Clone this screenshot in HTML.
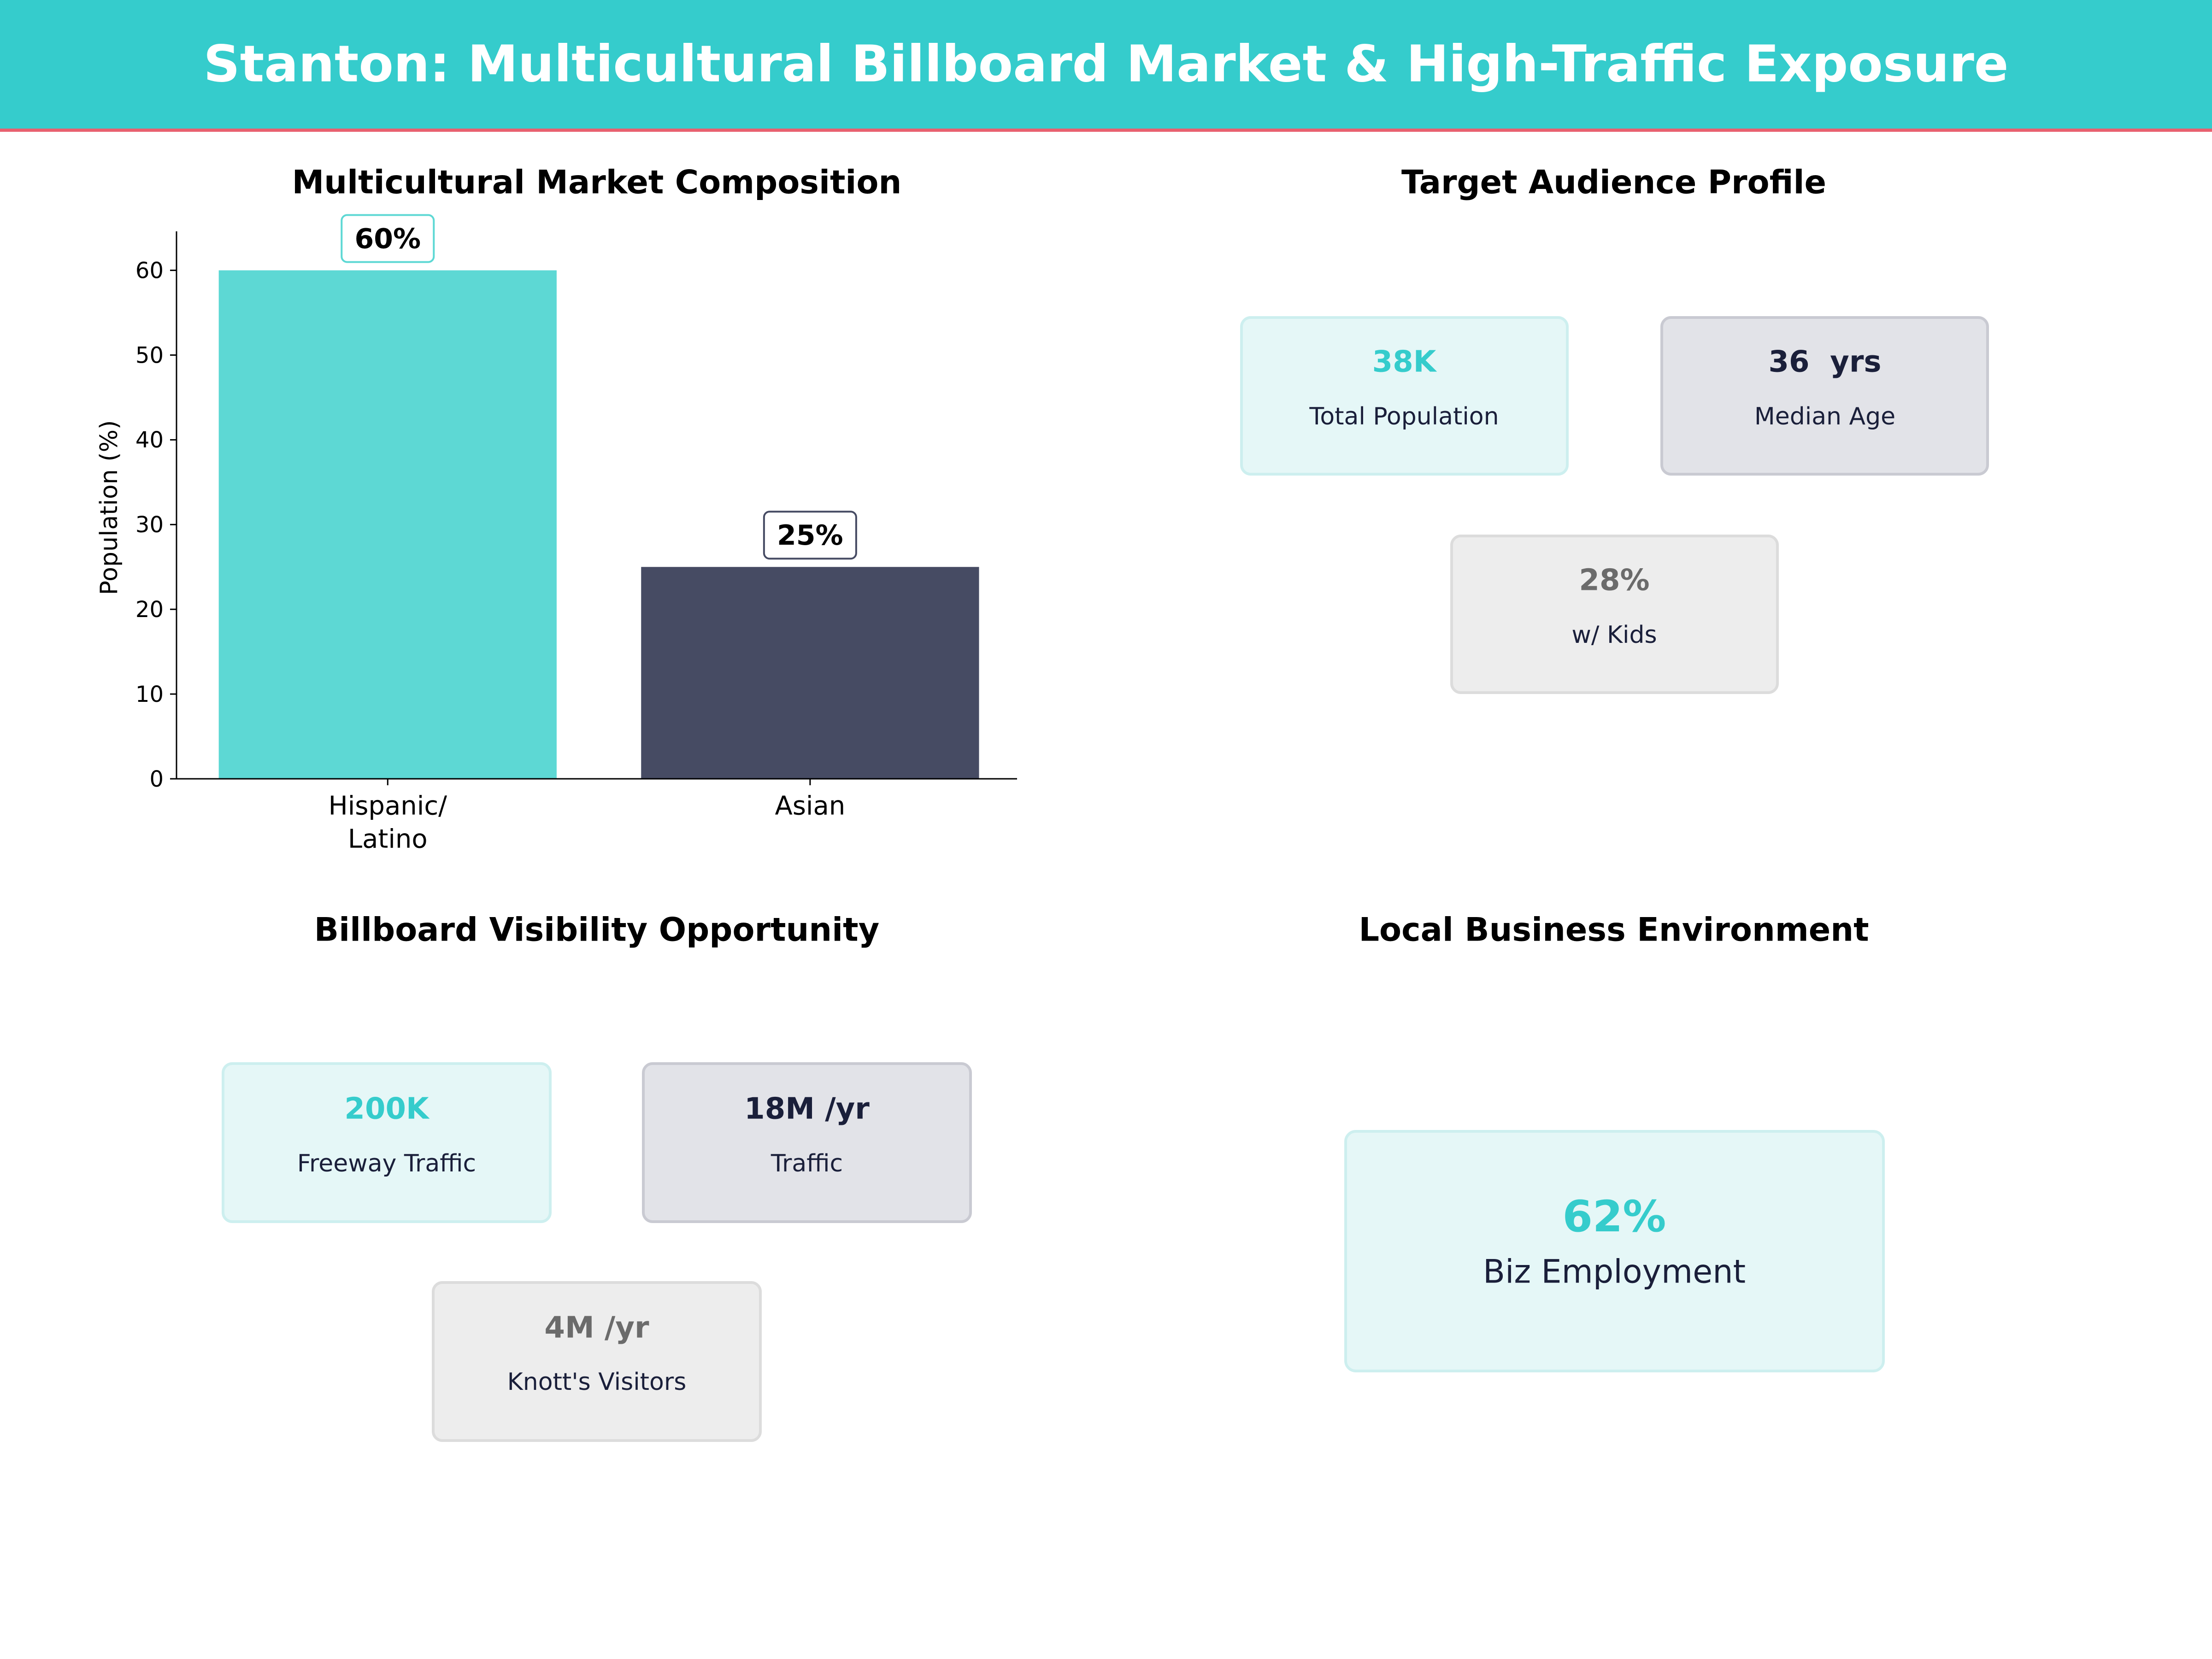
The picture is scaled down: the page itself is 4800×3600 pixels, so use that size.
<!DOCTYPE html>
<html><head><meta charset="utf-8"><style>
html,body{margin:0;padding:0;background:#fff}
svg{display:block}
text{font-family:"DejaVu Sans","Liberation Sans",sans-serif}
</style></head><body>
<svg id="root" width="4800" height="3600" viewBox="0 0 4800 3600" xmlns="http://www.w3.org/2000/svg">
<rect x="0" y="0" width="4800" height="282" fill="#35CCCC"/>
<rect x="0" y="279" width="4800" height="7" fill="#E8606F"/>
<text x="2400" y="138" dy="0.35em" text-anchor="middle" font-size="110" font-weight="bold" fill="#fff">Stanton: Multicultural Billboard Market &amp; High-Traffic Exposure</text>

<text x="1295" y="395" dy="0.35em" text-anchor="middle" font-size="70" font-weight="bold" fill="#000">Multicultural Market Composition</text>
<g id="chart"></g>

<text x="3502" y="395" dy="0.35em" text-anchor="middle" font-size="70" font-weight="bold" fill="#000">Target Audience Profile</text>
<text x="1295" y="2017" dy="0.35em" text-anchor="middle" font-size="70" font-weight="bold" fill="#000">Billboard Visibility Opportunity</text>
<text x="3502" y="2017" dy="0.35em" text-anchor="middle" font-size="70" font-weight="bold" fill="#000">Local Business Environment</text>

<g>
<rect x="2694" y="689" width="707" height="340" rx="20" fill="#E5F7F7" stroke="#CDEFEF" stroke-width="6"/>
<text x="3047" y="784" dy="0.35em" text-anchor="middle" font-size="64" font-weight="bold" fill="#35CCCC">38K</text>
<text x="3047" y="903" dy="0.35em" text-anchor="middle" font-size="52" fill="#1A1F3A">Total Population</text></g>
<g>
<rect x="3606" y="689" width="707" height="340" rx="20" fill="#E2E3E8" stroke="#C9CAD2" stroke-width="6"/>
<text x="3960" y="784" dy="0.35em" text-anchor="middle" font-size="64" font-weight="bold" fill="#1A1F3A" xml:space="preserve">36  yrs</text>
<text x="3960" y="903" dy="0.35em" text-anchor="middle" font-size="52" fill="#1A1F3A">Median Age</text></g>
<g>
<rect x="3150" y="1163" width="707" height="340" rx="20" fill="#EDEDED" stroke="#DCDCDC" stroke-width="6"/>
<text x="3503" y="1258" dy="0.35em" text-anchor="middle" font-size="64" font-weight="bold" fill="#6B6B6B">28%</text>
<text x="3503" y="1377" dy="0.35em" text-anchor="middle" font-size="52" fill="#1A1F3A">w/ Kids</text></g>

<g>
<rect x="484" y="2308" width="710" height="343" rx="20" fill="#E5F7F7" stroke="#CDEFEF" stroke-width="6"/>
<text x="839" y="2405" dy="0.35em" text-anchor="middle" font-size="64" font-weight="bold" fill="#35CCCC">200K</text>
<text x="839" y="2524" dy="0.35em" text-anchor="middle" font-size="52" fill="#1A1F3A">Freeway Traffic</text></g>
<g>
<rect x="1396" y="2308" width="710" height="343" rx="20" fill="#E2E3E8" stroke="#C9CAD2" stroke-width="6"/>
<text x="1751" y="2405" dy="0.35em" text-anchor="middle" font-size="64" font-weight="bold" fill="#1A1F3A">18M /yr</text>
<text x="1751" y="2524" dy="0.35em" text-anchor="middle" font-size="52" fill="#1A1F3A">Traffic</text></g>
<g>
<rect x="940" y="2783" width="710" height="343" rx="20" fill="#EDEDED" stroke="#DCDCDC" stroke-width="6"/>
<text x="1295" y="2880" dy="0.35em" text-anchor="middle" font-size="64" font-weight="bold" fill="#6B6B6B">4M /yr</text>
<text x="1295" y="2998" dy="0.35em" text-anchor="middle" font-size="52" fill="#1A1F3A">Knott's Visitors</text></g>

<g>
<rect x="2920" y="2455" width="1167" height="520" rx="22" fill="#E5F7F7" stroke="#CDEFEF" stroke-width="6"/>
<text x="3503" y="2639" dy="0.35em" text-anchor="middle" font-size="94" font-weight="bold" fill="#35CCCC">62%</text>
<text x="3503" y="2759" dy="0.35em" text-anchor="middle" font-size="70" fill="#1A1F3A">Biz Employment</text></g>
</svg>
<script>
const categories = ["Hispanic/\nLatino", "Asian"];
const values = [60, 25];
const valueLabels = ["60%", "25%"];
const yTicks = [0, 10, 20, 30, 40, 50, 60];
const barColors = ["#5DD8D4", "#464B63"];
const boxEdge = ["#5DD8D4", "#464B63"];

const NS = "http://www.w3.org/2000/svg";
const g = document.getElementById("chart");
const X0 = 383, X1 = 2207, Y0 = 1690, Ytop = 502;
const xmin = -0.5, xmax = 1.49, ymin = 0, ymax = 64.6;
const xs = v => X0 + (v - xmin) / (xmax - xmin) * (X1 - X0);
const ys = v => Y0 - (v - ymin) / (ymax - ymin) * (Y0 - Ytop);
function mk(tag, attrs, parent) {
  const e = document.createElementNS(NS, tag);
  for (const k in attrs) e.setAttribute(k, attrs[k]);
  (parent || g).appendChild(e);
  return e;
}
values.forEach((v, i) => {
  const r = mk("rect", {x: xs(i - 0.4), y: ys(v), width: xs(i + 0.4) - xs(i - 0.4), height: ys(0) - ys(v), fill: barColors[i]});
  
  
  const bx = mk("rect", {x: xs(i) - 100, y: ys(v) - 120, width: 200, height: 102, rx: 12, fill: "#fff", stroke: boxEdge[i], "stroke-width": 4});
  
  
  const t = mk("text", {x: xs(i), y: ys(v) - 69, dy: "0.35em", "text-anchor": "middle", "font-size": 60, "font-weight": "bold", fill: "#000"});
  t.textContent = valueLabels[i];
  
  
  const tk = mk("line", {x1: xs(i), x2: xs(i), y1: Y0, y2: Y0 + 14, stroke: "#000", "stroke-width": 3});
  
  
  categories[i].split("\n").forEach((ln, j) => {
    const c = mk("text", {x: xs(i), y: Y0 + 58 + j * 72, dy: "0.35em", "text-anchor": "middle", "font-size": 56, fill: "#000"});
    c.textContent = ln;
    
    
  });
});
yTicks.forEach(v => {
  const l = mk("line", {x1: X0 - 14, x2: X0, y1: ys(v), y2: ys(v), stroke: "#000", "stroke-width": 3});
  
  
  const t = mk("text", {x: X0 - 28, y: ys(v), dy: "0.35em", "text-anchor": "end", "font-size": 48, fill: "#000"});
  t.textContent = v;
  
  
});
const ax = mk("line", {x1: X0, x2: X0, y1: Ytop, y2: Y0, stroke: "#000", "stroke-width": 3});


const axx = mk("line", {x1: X0, x2: X1, y1: Y0, y2: Y0, stroke: "#000", "stroke-width": 3});


const yl = mk("text", {x: 236, y: ys(32), dy: "0.35em", "text-anchor": "middle", "font-size": 52, fill: "#000", transform: "rotate(-90 236 " + ys(32) + ")"});
yl.textContent = "Population (%)";


</script>
</body></html>
